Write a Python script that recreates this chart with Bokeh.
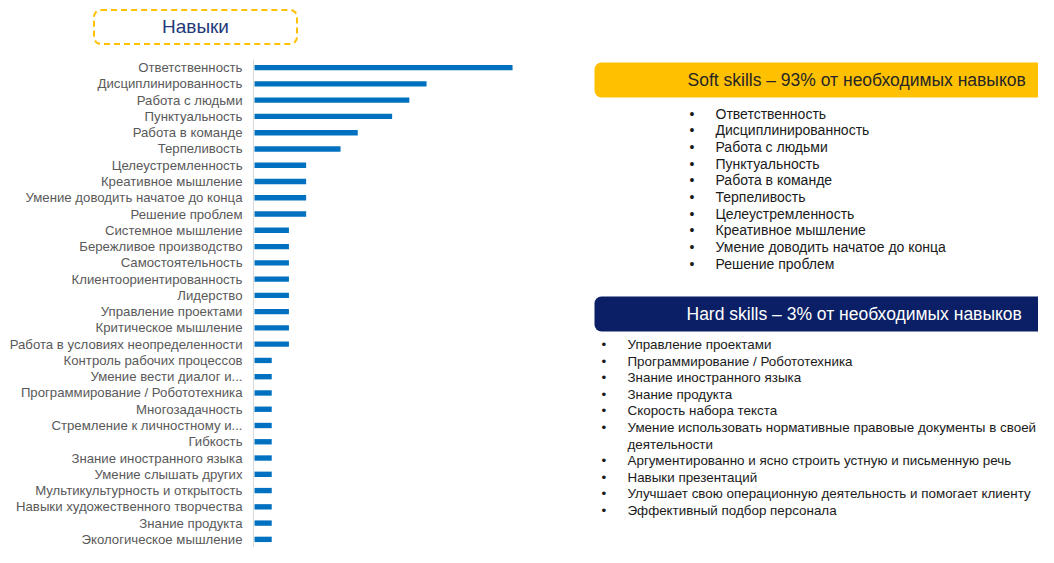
from bokeh.plotting import figure
from bokeh.models import Range1d, FactorRange, BoxAnnotation, Label, Div
from bokeh.layouts import row, column
from bokeh.embed import file_html
from bokeh.resources import INLINE
from bokeh.core.properties import value

# ---------------- data ----------------
skills = [
    "Ответственность",
    "Дисциплинированность",
    "Работа с людьми",
    "Пунктуальность",
    "Работа в команде",
    "Терпеливость",
    "Целеустремленность",
    "Креативное мышление",
    "Умение доводить начатое до конца",
    "Решение проблем",
    "Системное мышление",
    "Бережливое производство",
    "Самостоятельность",
    "Клиентоориентированность",
    "Лидерство",
    "Управление проектами",
    "Критическое мышление",
    "Работа в условиях неопределенности",
    "Контроль рабочих процессов",
    "Умение вести диалог и...",
    "Программирование / Робототехника",
    "Многозадачность",
    "Стремление к личностному и...",
    "Гибкость",
    "Знание иностранного языка",
    "Умение слышать других",
    "Мультикультурность и открытость",
    "Навыки художественного творчества",
    "Знание продукта",
    "Экологическое мышление",
]
counts = [15, 10, 9, 8, 6, 5, 3, 3, 3, 3,
          2, 2, 2, 2, 2, 2, 2, 2,
          1, 1, 1, 1, 1, 1, 1, 1, 1, 1, 1, 1]

chart_title = "Навыки"
soft_title = "Soft skills – 93% от необходимых навыков"
soft_skills = [
    "Ответственность",
    "Дисциплинированность",
    "Работа с людьми",
    "Пунктуальность",
    "Работа в команде",
    "Терпеливость",
    "Целеустремленность",
    "Креативное мышление",
    "Умение доводить начатое до конца",
    "Решение проблем",
]
hard_title = "Hard skills – 3% от необходимых навыков"
hard_skills = [
    "Управление проектами",
    "Программирование / Робототехника",
    "Знание иностранного языка",
    "Знание продукта",
    "Скорость набора текста",
    "Умение использовать нормативные правовые документы в своей\nдеятельности",
    "Аргументированно и ясно строить устную и письменную речь",
    "Навыки презентаций",
    "Улучшает свою операционную деятельность и помогает клиенту",
    "Эффективный подбор персонала",
]

FONT = "Liberation Sans"
GOLD = "#FFC000"
NAVY = "#0B1F66"
BLUE = "#0070C0"
LW = 586           # width of the left figure
TOTAL_W, TOTAL_H = 1038, 547
TOP = 59           # height of the title strip
BODY_H = TOTAL_H - TOP
FRAME_LEFT = 253


def blank(fig):
    fig.grid.visible = False
    fig.outline_line_color = None
    fig.background_fill_color = None
    fig.border_fill_color = None
    return fig


# ---------------- title strip ----------------
title_html = (
    f'<div style="position:relative;width:{TOTAL_W}px;height:{TOP}px;">'
    '<div style="position:absolute;left:93px;top:9px;width:205px;height:36px;'
    f'box-sizing:border-box;border:2px dashed {GOLD};border-radius:8px;display:flex;'
    'align-items:center;justify-content:center;'
    f"font-family:'{FONT}';font-size:19px;color:#1F3A7A;\">"
    f'{chart_title}</div></div>'
)
title_div = Div(text=title_html, width=TOTAL_W, height=TOP, margin=(0, 0, 0, 0))

# ---------------- bar chart ----------------
p = figure(width=LW, height=BODY_H,
           y_range=FactorRange(factors=list(reversed(skills))),
           x_range=Range1d(-0.06, 19.3),
           output_backend="svg", toolbar_location=None,
           x_axis_location=None,
           min_border_left=FRAME_LEFT, min_border_right=0,
           min_border_top=0, min_border_bottom=0)
blank(p)
p.hbar(y=skills, left=0, right=counts, height=0.33,
       fill_color=BLUE, line_color=None)
p.yaxis.axis_line_color = "#D9D9D9"
p.yaxis.axis_line_width = 1
p.yaxis.major_tick_line_color = None
p.yaxis.minor_tick_line_color = None
p.yaxis.major_tick_out = 0
p.yaxis.major_tick_in = 0
p.yaxis.major_label_standoff = 11
p.yaxis.major_label_text_font = FONT
p.yaxis.major_label_text_font_size = "13.2px"
p.yaxis.major_label_text_color = "#595959"

# ---------------- right text panel ----------------
RW = TOTAL_W - LW
r = figure(width=RW, height=BODY_H, x_range=Range1d(0, RW),
           y_range=Range1d(0, BODY_H),
           output_backend="svg", toolbar_location=None, min_border=0,
           x_axis_location=None, y_axis_location=None)
blank(r)


def px(img_x):
    return img_x - LW


def py(img_y):
    return TOTAL_H - img_y


# soft skills header
r.add_layout(BoxAnnotation(left=px(594), right=px(1070), top=py(62), bottom=py(97),
                           fill_color=GOLD, fill_alpha=1, line_color=None,
                           border_radius=7))
r.add_layout(Label(x=px(687), y=py(79.5), text=soft_title, text_baseline="middle",
                   text_font=FONT, text_font_size="17.5px", text_color="#262626"))

sy = [py(113 + 16.67 * i) for i in range(len(soft_skills))]
r.text(x=[px(689)] * len(soft_skills), y=sy, text=["•"] * len(soft_skills),
       text_font=value(FONT), text_font_size="14px", text_baseline="middle",
       text_color="#1a1a1a")
r.text(x=[px(715)] * len(soft_skills), y=sy, text=soft_skills,
       text_font=value(FONT), text_font_size="14px", text_baseline="middle",
       text_color="#1a1a1a")

# hard skills header
r.add_layout(BoxAnnotation(left=px(594), right=px(1070), top=py(296), bottom=py(331),
                           fill_color=NAVY, fill_alpha=1, line_color=None,
                           border_radius=7))
r.add_layout(Label(x=px(686), y=py(313.5), text=hard_title, text_baseline="middle",
                   text_font=FONT, text_font_size="17.5px", text_color="white"))

hb_y, ht_y, ht = [], [], []
line = 0
for item in hard_skills:
    hb_y.append(py(344 + 16.6 * line))
    for part in item.split("\n"):
        ht_y.append(py(344 + 16.6 * line))
        ht.append(part)
        line += 1
r.text(x=[px(601)] * len(hb_y), y=hb_y, text=["•"] * len(hb_y),
       text_font=value(FONT), text_font_size="13.4px", text_baseline="middle",
       text_color="#1a1a1a")
r.text(x=[px(627)] * len(ht), y=ht_y, text=ht,
       text_font=value(FONT), text_font_size="13.4px", text_baseline="middle",
       text_color="#1a1a1a")

layout = column(title_div, row(p, r, spacing=0), spacing=0)
open("out.html", "w").write(file_html(layout, INLINE))
